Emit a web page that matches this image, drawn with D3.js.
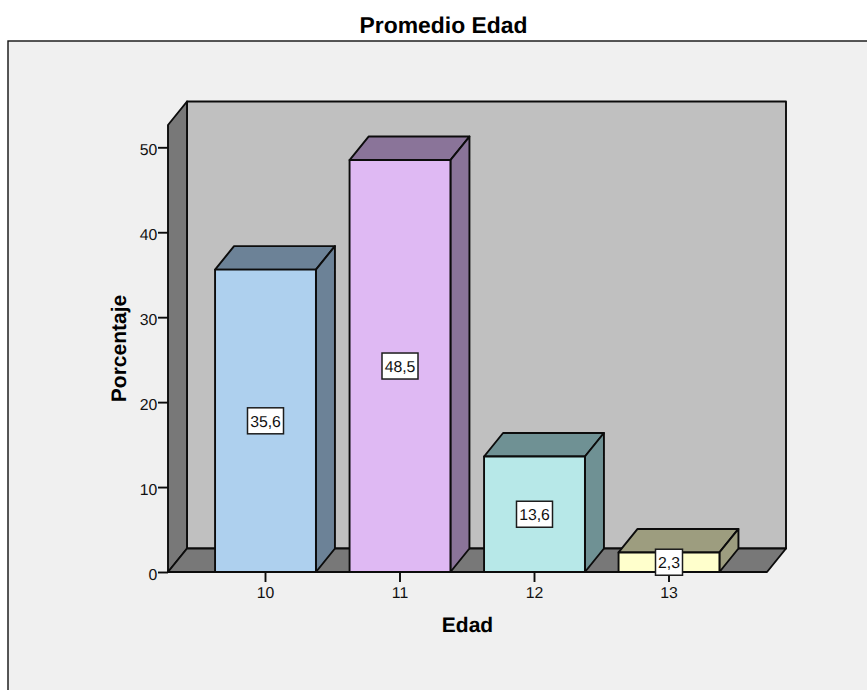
<!DOCTYPE html>
<html>
<head>
<meta charset="utf-8">
<script src="https://cdn.jsdelivr.net/npm/d3@7/dist/d3.min.js"></script>
<style>
html,body{margin:0;padding:0;background:#fff;overflow:hidden}
svg{display:block;font-family:"Liberation Sans",Arial,sans-serif;text-rendering:geometricPrecision}
</style>
</head>
<body>
<svg id="chart" width="867" height="690"></svg>
<script>
// Age distribution, percentages per age group
const ages = ["10", "11", "12", "13"];
const percents = [35.6, 48.5, 13.6, 2.3];
const percentLabels = ["35,6", "48,5", "13,6", "2,3"];
const yTicks = [0, 10, 20, 30, 40, 50];
const frontColors = ["#aed0ee", "#dfb9f3", "#b7e8e8", "#ffffcc"];
const sideColors = ["#6c8297", "#8a7499", "#6f9194", "#9d9d7f"];

const svg = d3.select("#chart");
const ink = "#0c0c0c";

// Pseudo-3D box depth, in pixels
const depthX = 19, depthY = -23.5;
const frontLeft = 168, frontRight = 767;

const y = d3.scaleLinear().domain([0, 50]).range([572, 147.3]);
const yTopOfFrame = 125;
const x = d3.scaleBand().domain(ages).range([198.25, 736.25]).paddingInner(0.25).paddingOuter(0.125);

const poly = (pts, fill) => svg.append("polygon")
  .attr("points", pts.map(p => p.join(",")).join(" "))
  .attr("fill", fill).attr("stroke", ink).attr("stroke-width", 1.9)
  .attr("stroke-linejoin", "round");

const smallText = (px, py, anchor, str) => svg.append("text")
  .attr("x", px).attr("y", py)
  .attr("text-anchor", anchor).attr("font-size", 15.8).attr("fill", "#111").text(str);

// Outer panel, its right and bottom edges run off the page
svg.append("rect").attr("x", 8).attr("y", 41).attr("width", 880).attr("height", 680)
  .attr("fill", "#f0f0f0").attr("stroke", "#111").attr("stroke-width", 1.4);

svg.append("text").attr("x", 443.5).attr("y", 32.5).attr("text-anchor", "middle")
  .attr("font-size", 22.9).attr("font-weight", "bold").attr("fill", "#000").text("Promedio Edad");

// Back wall, left wall and floor of the box
const y0 = y(0);
poly([[frontLeft + depthX, yTopOfFrame + depthY], [frontRight + depthX, yTopOfFrame + depthY],
      [frontRight + depthX, y0 + depthY], [frontLeft + depthX, y0 + depthY]], "#c0c0c0");
poly([[frontLeft, yTopOfFrame], [frontLeft + depthX, yTopOfFrame + depthY],
      [frontLeft + depthX, y0 + depthY], [frontLeft, y0]], "#787878");
poly([[frontLeft, y0], [frontLeft + depthX, y0 + depthY],
      [frontRight + depthX, y0 + depthY], [frontRight, y0]], "#787878");

// Bars: top and side faces first, then the front
ages.forEach((a, i) => {
  const l = x(a), r = l + x.bandwidth(), t = y(percents[i]);
  poly([[l, t], [l + depthX, t + depthY], [r + depthX, t + depthY], [r, t]], sideColors[i]);
  poly([[r, t], [r + depthX, t + depthY], [r + depthX, y0 + depthY], [r, y0]], sideColors[i]);
  poly([[l, t], [r, t], [r, y0], [l, y0]], frontColors[i]);
});

// Axes
const yAxis = d3.axisLeft(y).tickValues(yTicks).tickSize(10).tickFormat("");
const gy = svg.append("g").attr("transform", `translate(${frontLeft},0)`).call(yAxis);
const xAxis = d3.axisBottom(x).tickSize(10).tickFormat("");
const gx = svg.append("g").attr("transform", `translate(0,${y0})`).call(xAxis);
gx.select(".domain").remove();
gy.select(".domain").remove();
svg.append("line").attr("x1", frontLeft).attr("x2", frontRight).attr("y1", y0).attr("y2", y0)
  .attr("stroke", ink).attr("stroke-width", 2);
[gy, gx].forEach(g => g.selectAll("line").attr("stroke", ink).attr("stroke-width", 1.9));
yTicks.forEach(t => smallText(157.3, y(t) + 7.5, "end", t));
ages.forEach(a => smallText(x(a) + x.bandwidth() / 2, 598, "middle", a));

// Value labels, boxed at the middle of each bar
ages.forEach((a, i) => {
  const cx = x(a) + x.bandwidth() / 2, cy = y(percents[i] / 2);
  const w = percentLabels[i].length > 3 ? 36 : 27;
  svg.append("rect").attr("x", cx - w / 2).attr("y", cy - 13).attr("width", w).attr("height", 26)
    .attr("fill", "#fff").attr("stroke", "#1c1c1c").attr("stroke-width", 1.5);
  smallText(cx, cy + 6, "middle", percentLabels[i]);
});

// Axis titles
svg.append("text").attr("x", 467.5).attr("y", 632).attr("text-anchor", "middle")
  .attr("font-size", 21).attr("font-weight", "bold").text("Edad");
svg.append("text").attr("transform", "translate(125.5,348.5) rotate(-90)").attr("text-anchor", "middle")
  .attr("font-size", 21).attr("font-weight", "bold").text("Porcentaje");
</script>
</body>
</html>
